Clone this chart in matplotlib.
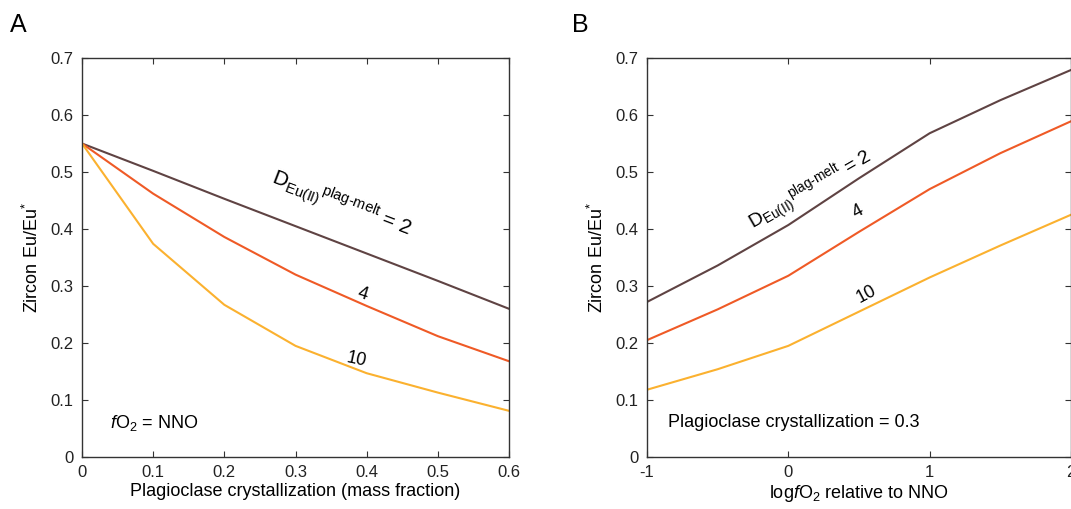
import numpy as np
import matplotlib
matplotlib.use("Agg")
import matplotlib.pyplot as plt

plt.rcParams['font.family'] = ['Liberation Sans', 'DejaVu Sans']
plt.rcParams['mathtext.fontset'] = 'custom'
plt.rcParams['mathtext.rm'] = 'Liberation Sans'
plt.rcParams['mathtext.it'] = 'Liberation Sans:italic'
plt.rcParams['axes.unicode_minus'] = False

# panel A: zircon Eu/Eu* vs plagioclase crystallization, fO2 = NNO
frac = [0, 0.1, 0.2, 0.3, 0.4, 0.5, 0.6]
a_d2 = [0.55, 0.502, 0.453, 0.405, 0.357, 0.309, 0.26]
a_d4 = [0.55, 0.462, 0.386, 0.320, 0.265, 0.212, 0.168]
a_d10 = [0.55, 0.374, 0.267, 0.195, 0.147, 0.113, 0.081]

# panel B: zircon Eu/Eu* vs log fO2 relative to NNO, crystallization = 0.3
dnno = [-1, -0.5, 0, 0.5, 1, 1.5, 2]
b_d2 = [0.272, 0.336, 0.407, 0.489, 0.568, 0.626, 0.679]
b_d4 = [0.205, 0.259, 0.318, 0.395, 0.47, 0.533, 0.589]
b_d10 = [0.118, 0.154, 0.195, 0.255, 0.315, 0.371, 0.425]

c2 = '#5f4343'
c4 = '#ef5a26'
c10 = '#fbb12f'
axcol = '#333333'

fig = plt.figure(figsize=(10.71, 5.09), dpi=100)
axA = fig.add_axes([82/1071, 1-457/509, 427/1071, 399/509])
axB = fig.add_axes([647/1071, 1-457/509, 424/1071, 399/509])

def style(ax):
    ax.set_ylim(0, 0.7)
    ax.set_yticks(np.arange(0, 0.71, 0.1))
    ax.set_yticklabels(['0'] + ['%.1f' % v for v in np.arange(0.1, 0.71, 0.1)])
    ax.tick_params(direction='in', top=True, right=True, length=4, width=0.8,
                   colors=axcol, labelsize=12, labelcolor='#222222', pad=6)
    for s in ax.spines.values():
        s.set_color(axcol)
        s.set_linewidth(1.0)
    ax.set_ylabel('Zircon Eu/Eu$^{*}$', fontsize=13, labelpad=6)

lw = 1.5
axA.plot(frac, a_d2, color=c2, lw=lw)
axA.plot(frac, a_d4, color=c4, lw=lw)
axA.plot(frac, a_d10, color=c10, lw=lw)
axA.set_xlim(0, 0.6)
axA.set_xticks(frac)
axA.set_xticklabels(['0'] + ['%.1f' % v for v in frac[1:]])
style(axA)
axA.set_xlabel('Plagioclase crystallization (mass fraction)', fontsize=13, labelpad=2)

dlabel = r'$\mathrm{D}_{\mathrm{Eu(II)}}{}^{\mathrm{plag\text{-}melt}}$ = 2'
axA.text(0.365, 0.445, dlabel, fontsize=15, rotation=-21, ha='center', va='center',
         rotation_mode='anchor')
axA.text(0.395, 0.285, '4', fontsize=13, rotation=-17, ha='center', va='center')
axA.text(0.385, 0.17, '10', fontsize=13, rotation=-12, ha='center', va='center')
axA.text(0.04, 0.06, r'$\mathit{f}$O$_2$ = NNO', fontsize=13, ha='left', va='center')

axB.plot(dnno, b_d2, color=c2, lw=lw)
axB.plot(dnno, b_d4, color=c4, lw=lw)
axB.plot(dnno, b_d10, color=c10, lw=lw)
axB.set_xlim(-1, 2)
axB.set_xticks([-1, 0, 1, 2])
style(axB)
axB.set_xlabel(r'log$\mathit{f}$O$_2$ relative to NNO', fontsize=13, labelpad=2)
axB.text(0.16, 0.468, dlabel, fontsize=14, rotation=30, ha='center', va='center',
         rotation_mode='anchor')
axB.text(0.49, 0.43, '4', fontsize=13, rotation=28, ha='center', va='center')
axB.text(0.55, 0.285, '10', fontsize=13, rotation=28, ha='center', va='center')
axB.text(-0.85, 0.06, 'Plagioclase crystallization = 0.3', fontsize=13, ha='left', va='center')

fig.text(10/1071, 1-25/509, 'A', fontsize=18, ha='left', va='center')
fig.text(572/1071, 1-25/509, 'B', fontsize=18, ha='left', va='center')

fig.savefig('out.png', dpi=100)
